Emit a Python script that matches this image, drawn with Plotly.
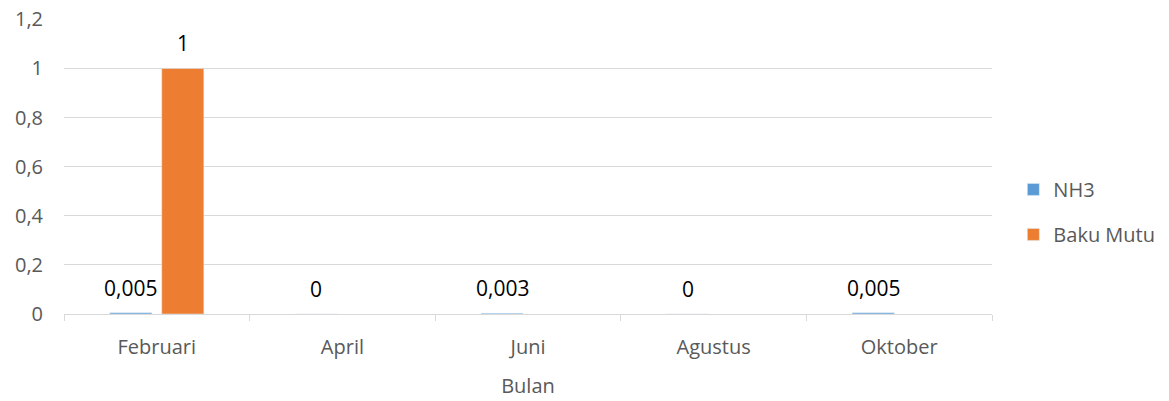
import plotly.graph_objects as go

bulan = ["Februari", "April", "Juni", "Agustus", "Oktober"]
nh3 = [0.005, 0, 0.003, 0, 0.005]
baku_mutu = [1, None, None, None, None]
y_ticks = [0, 0.2, 0.4, 0.6, 0.8, 1.0, 1.2]
y_tick_text = ["0", "0,2", "0,4", "0,6", "0,8", "1", "1,2"]

FONT = "Open Sans"

def fmt(v):
    return ("%g" % v).replace(".", ",")

fig = go.Figure()
fig.add_trace(go.Bar(name="NH3", x=bulan, y=nh3, marker_color="#5B9BD5",
                     legendgroup="a"))
fig.add_trace(go.Bar(name="Baku Mutu", x=bulan, y=baku_mutu, marker_color="#ED7D31",
                     legendgroup="b"))

annotations = []
for series, shift in ((nh3, -26), (baku_mutu, 26)):
    for cat, v in zip(bulan, series):
        if v is None:
            continue
        annotations.append(dict(x=cat, y=v, xref="x", yref="y", text=fmt(v),
                                showarrow=False, xshift=shift, yshift=25,
                                yanchor="middle",
                                font=dict(family=FONT, size=21, color="#000000")))

fig.update_layout(
    width=1169, height=401,
    margin=dict(l=64, r=177, t=19, b=87, autoexpand=False),
    paper_bgcolor="white", plot_bgcolor="white",
    barmode="group", bargap=0.44, bargroupgap=0.19,
    font=dict(family=FONT, size=20, color="#595959"),
    annotations=annotations,
    legend=dict(x=1.023, y=0.346, xanchor="left", yanchor="middle",
                font=dict(family=FONT, size=20, color="#595959"),
                itemwidth=30, tracegroupgap=16),
    xaxis=dict(title=dict(text="Bulan", standoff=19, font=dict(size=20)),
               automargin=False,
               showline=True, linecolor="#d9d9d9", linewidth=1,
               ticks="outside", tickson="boundaries", ticklen=6,
               tickcolor="#d9d9d9", showgrid=False, ticklabelstandoff=15),
    yaxis=dict(range=[0, 1.2015], tickvals=y_ticks, ticktext=y_tick_text,
               automargin=False, ticklabeloverflow="allow",
               showgrid=True, gridcolor="#d9d9d9", gridwidth=1,
               zeroline=False, ticks="", ticklabelstandoff=20),
)

fig.write_html("out.html",
               config={"displayModeBar": False},
               post_script="document.body.style.margin='0';")
